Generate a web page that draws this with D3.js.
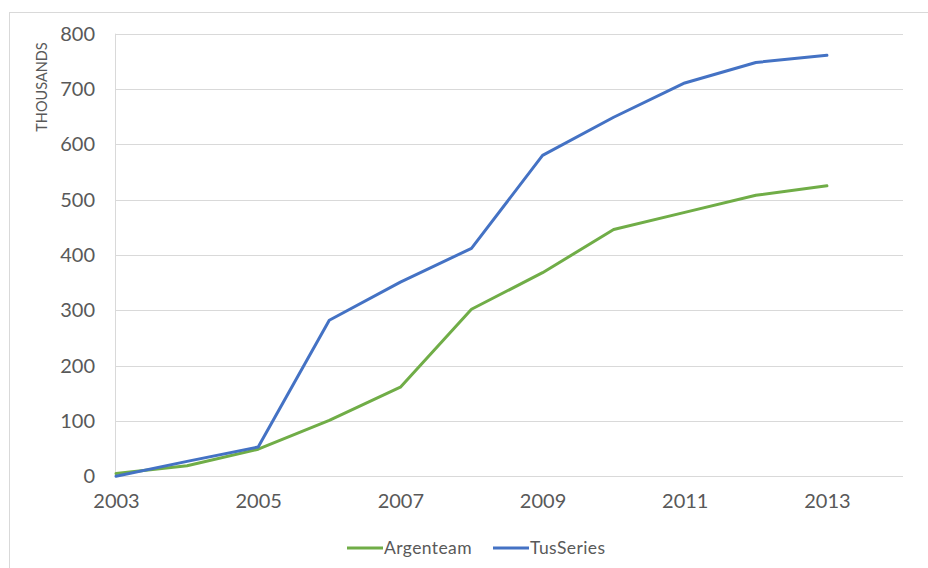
<!DOCTYPE html>
<html>
<head>
<meta charset="utf-8">
<script src="https://cdn.jsdelivr.net/npm/d3@7"></script>
<style>
  html, body { margin: 0; padding: 0; background: #fff; }
  svg { display: block; }
</style>
</head>
<body>
<svg id="chart" width="928" height="568"></svg>
<script>
const years = [2003, 2004, 2005, 2006, 2007, 2008, 2009, 2010, 2011, 2012, 2013];
const argenteam = [5, 19, 49, 101, 161, 302, 368, 446, 477, 508, 525];
const tusSeries = [0, 27, 53, 282, 351, 412, 580, 649, 711, 748, 761];
const seriesNames = ["Argenteam", "TusSeries"];
const seriesColors = ["#70AD47", "#4472C4"];
const yTicks = [0, 100, 200, 300, 400, 500, 600, 700, 800];
const xTicks = [2003, 2005, 2007, 2009, 2011, 2013];
const yAxisTitle = "THOUSANDS";

(function () {
const svg = d3.select("#chart");
const W = 928, H = 568;
const mLeft = 116, mRight = 903, mTop = 33.7, mBottom = 476.3;

// outer frame
svg.append("rect").attr("x", 9.5).attr("y", 12.5).attr("width", W).attr("height", H)
  .attr("fill", "none").attr("stroke", "#d9d9d9").attr("stroke-width", 1);

const x = d3.scaleLinear().domain([2003, 2014.07]).range([mLeft, mRight]);
const y = d3.scaleLinear().domain([0, 800]).range([mBottom, mTop]);

const font = "Lato, 'Open Sans', sans-serif";
const textColor = "#595959";

// gridlines
svg.append("g").selectAll("line").data(yTicks).join("line")
  .attr("x1", mLeft).attr("x2", mRight)
  .attr("y1", d => Math.round(y(d)) + 0.5).attr("y2", d => Math.round(y(d)) + 0.5)
  .attr("stroke", "#d9d9d9").attr("stroke-width", 1);

// left vertical line
svg.append("line").attr("x1", mLeft - 0.5).attr("x2", mLeft - 0.5)
  .attr("y1", y(800)).attr("y2", y(0))
  .attr("stroke", "#d9d9d9").attr("stroke-width", 1);

// y axis
const yAxis = d3.axisLeft(y).tickValues(yTicks).tickSize(0).tickPadding(21);
const gy = svg.append("g").attr("transform", `translate(${mLeft},0)`).call(yAxis);
gy.select(".domain").remove();
gy.selectAll("text").attr("font-family", font).attr("font-size", 20).attr("fill", textColor);

// x axis
const xAxis = d3.axisBottom(x).tickValues(xTicks).tickFormat(d3.format("d")).tickSize(0).tickPadding(18);
const gx = svg.append("g").attr("transform", `translate(0,${mBottom})`).call(xAxis);
gx.select(".domain").remove();
gx.selectAll("text").attr("font-family", font).attr("font-size", 20).attr("fill", textColor);

// y title
svg.append("text").attr("transform", `translate(47,87) rotate(-90)`)
  .attr("text-anchor", "middle").attr("font-family", font).attr("font-size", 14.5)
  .attr("fill", textColor).text(yAxisTitle);

// lines
const line = d3.line().x((d, i) => x(years[i])).y(d => y(d));
[argenteam, tusSeries].forEach((s, i) => {
  svg.append("path").datum(s).attr("d", line)
    .attr("fill", "none").attr("stroke", seriesColors[i]).attr("stroke-width", 3)
    .attr("stroke-linejoin", "round").attr("stroke-linecap", "round");
});

// legend
const legendItems = [
  { name: seriesNames[0], color: seriesColors[0], x: 347 },
  { name: seriesNames[1], color: seriesColors[1], x: 493 }
];
const lg = svg.append("g");
legendItems.forEach(it => {
  lg.append("line").attr("x1", it.x).attr("x2", it.x + 36).attr("y1", 548).attr("y2", 548)
    .attr("stroke", it.color).attr("stroke-width", 3);
  lg.append("text").attr("x", it.x + 37).attr("y", 548).attr("dy", "0.35em")
    .attr("font-family", font).attr("font-size", 17.5).attr("letter-spacing", 0.4)
    .attr("fill", textColor).text(it.name);
});
})();
</script>
</body>
</html>
